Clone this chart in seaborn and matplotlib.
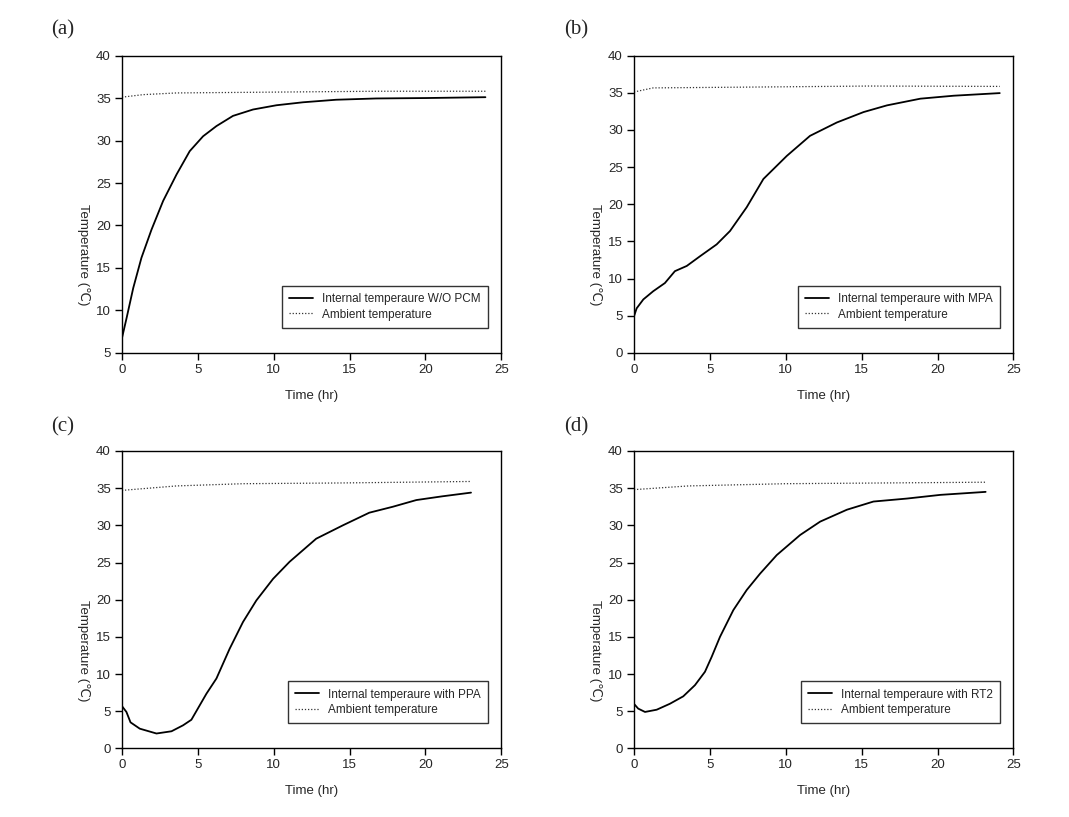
# Internal vs ambient temperature for four PCM cases
import pandas as pd
import matplotlib
matplotlib.use('Agg')
import matplotlib.pyplot as plt
import seaborn as sns

sns.set_style("white")
plt.rcParams['font.family'] = ['Liberation Sans', 'DejaVu Sans']

# ---- data (hours, deg C) ----
t_a = [0, 0.31, 0.75, 1.29, 1.95, 2.72, 3.6, 4.47, 5.35, 6.23, 7.32, 8.64,
       10.18, 11.93, 14.12, 16.75, 20.04, 23.95]
wo_pcm = [6.7, 9.1, 12.65, 16.2, 19.5, 22.9, 26.0, 28.75, 30.5, 31.7, 32.9,
          33.65, 34.15, 34.5, 34.8, 34.95, 35.0, 35.1]
amb_t_a = [0, 1.4, 3.6, 10.2, 16.8, 24.0]
amb_a = [35.1, 35.4, 35.6, 35.7, 35.8, 35.8]

t_b = [0, 0.18, 0.62, 1.27, 2.04, 2.7, 3.48, 4.35, 5.45, 6.33, 7.43, 8.53,
       10.07, 11.6, 13.37, 15.13, 16.67, 18.87, 21.07, 24.1]
mpa = [4.9, 6.0, 7.2, 8.3, 9.4, 11.0, 11.7, 13.0, 14.6, 16.4, 19.6, 23.4,
       26.5, 29.2, 31.0, 32.4, 33.3, 34.2, 34.6, 34.95]
amb_t_b = [0, 1.27, 10.07, 15.5, 24.1]
amb_b = [35.1, 35.65, 35.8, 35.9, 35.85]

t_c = [0, 0.3, 0.57, 1.18, 2.28, 3.27, 4.03, 4.58, 5.57, 6.23, 7.1, 7.98,
       8.86, 9.96, 11.05, 12.8, 14.56, 16.3, 17.85, 19.4, 21.1, 23.0]
ppa = [5.7, 4.9, 3.5, 2.65, 2.0, 2.3, 3.1, 3.85, 7.35, 9.4, 13.4, 17.0,
       19.9, 22.8, 25.1, 28.2, 30.0, 31.7, 32.5, 33.4, 33.9, 34.4]
amb_t_c = [0, 3.6, 8.0, 14.5, 23.0]
amb_c = [34.7, 35.3, 35.6, 35.7, 35.9]

t_d = [0, 0.28, 0.73, 1.5, 2.37, 3.25, 4.02, 4.68, 5.12, 5.67, 6.55, 7.43,
       8.31, 9.41, 10.95, 12.27, 14.03, 15.78, 17.98, 20.2, 23.17]
rt2 = [6.0, 5.35, 4.9, 5.2, 6.0, 7.0, 8.5, 10.3, 12.3, 15.0, 18.6, 21.3,
       23.5, 26.0, 28.7, 30.5, 32.1, 33.2, 33.6, 34.1, 34.5]
amb_t_d = [0, 3.6, 10.0, 23.17]
amb_d = [34.8, 35.3, 35.6, 35.8]

panels = [
    ("(a)", "Internal temperaure W/O PCM", t_a, wo_pcm, amb_t_a, amb_a, 5),
    ("(b)", "Internal temperaure with MPA", t_b, mpa, amb_t_b, amb_b, 0),
    ("(c)", "Internal temperaure with PPA", t_c, ppa, amb_t_c, amb_c, 0),
    ("(d)", "Internal temperaure with RT2", t_d, rt2, amb_t_d, amb_d, 0),
]

fig = plt.figure(figsize=(10.69, 8.17), dpi=100)
boxes = [(0.114, 0.568), (0.593, 0.568), (0.114, 0.084), (0.593, 0.084)]
tags = [(0.048, 0.963), (0.528, 0.963), (0.048, 0.478), (0.528, 0.478)]

for (tag, name, t, y, at, ay, ymin), (l, b), (tx, ty) in zip(panels, boxes, tags):
    ax = fig.add_axes([l, b, 0.355, 0.364])
    sns.lineplot(x=t, y=y, ax=ax, color='black', lw=1.3, label=name)
    sns.lineplot(x=at, y=ay, ax=ax, color='#333333', lw=0.9,
                 linestyle=(0, (1, 1.5)), label="Ambient temperature")
    ax.set_xlim(0, 25)
    ax.set_ylim(ymin, 40)
    ax.set_xticks(range(0, 26, 5))
    ax.set_yticks(range(ymin, 41, 5))
    for s in ax.spines.values():
        s.set_color('black')
        s.set_linewidth(1.0)
    ax.tick_params(direction='out', length=5, width=1, labelsize=9.5,
                   bottom=True, left=True, pad=3, color='black')
    ax.set_xlabel("Time (hr)", fontsize=9.5, labelpad=10)
    ax.set_ylabel("Temperature (℃)", fontsize=9.5, rotation=270,
                  va='center', ha='center')
    ax.yaxis.set_label_coords(-0.1, 0.33)
    leg = ax.legend(loc='lower right', bbox_to_anchor=(0.98, 0.065),
                    fontsize=8.5, frameon=True, fancybox=False,
                    handlelength=2.0, borderpad=0.6, labelspacing=0.3)
    leg.get_frame().set_edgecolor('black')
    leg.get_frame().set_linewidth(1.0)
    fig.text(tx, ty, tag, fontsize=15, family='Liberation Serif',
             va='center', ha='left')

plt.savefig('out.png', dpi=100)
